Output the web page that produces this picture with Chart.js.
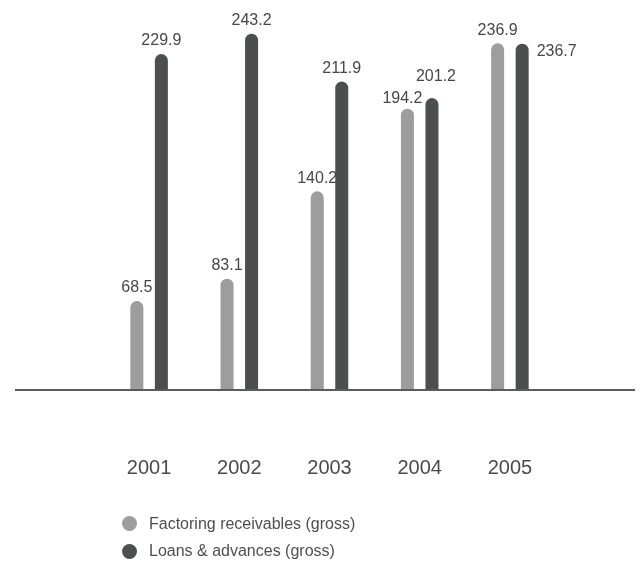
<!DOCTYPE html>
<html>
<head>
<meta charset="utf-8">
<script src="https://cdn.jsdelivr.net/npm/chart.js@4/dist/chart.umd.min.js"></script>
<style>
  html, body { margin: 0; padding: 0; background: #fff; }
  #wrap { position: relative; width: 641px; height: 564px; }
  #legend { position: absolute; left: 122px; top: 510px; font: 16px "Liberation Sans", Arial, sans-serif; color: #4f4f4f; }
  #legend div { display: flex; align-items: center; height: 27.5px; }
  #legend span.dot { width: 15px; height: 15px; border-radius: 50%; margin-right: 12px; }
</style>
</head>
<body>
<div id="wrap">
  <canvas id="chart" width="641" height="564"></canvas>
  <div id="legend"></div>
</div>
<script>
const years = ["2001", "2002", "2003", "2004", "2005"];
const factoring = [68.5, 83.1, 140.2, 194.2, 236.9];
const loans = [229.9, 243.2, 211.9, 201.2, 236.7];

const LIGHT = "#9c9d9c";
const DARK = "#4c4f4e";
const FONT = '"Liberation Sans", Arial, sans-serif';

// long rule under the bars, wider than the plot area
const baseline = {
  id: "baseline",
  beforeDatasetsDraw(chart) {
    const ctx = chart.ctx;
    const y = chart.chartArea.bottom + 1;
    ctx.save();
    ctx.strokeStyle = "#5b5b5b";
    ctx.lineWidth = 2;
    ctx.beginPath();
    ctx.moveTo(15, y);
    ctx.lineTo(635, y);
    ctx.stroke();
    ctx.restore();
  },
};

// value above each bar. When the pair of labels in a year would clash:
// nearly level -> second one goes beside its bar, otherwise spread them apart.
const valueLabels = {
  id: "valueLabels",
  afterDatasetsDraw(chart) {
    const ctx = chart.ctx;
    ctx.save();
    ctx.font = "16px " + FONT;
    ctx.fillStyle = "#474747";
    ctx.textBaseline = "middle";
    const m0 = chart.getDatasetMeta(0);
    const m1 = chart.getDatasetMeta(1);
    years.forEach((_, i) => {
      const a = m0.data[i];
      const b = m1.data[i];
      const ta = chart.data.datasets[0].data[i].toFixed(1);
      const tb = chart.data.datasets[1].data[i].toFixed(1);
      const la = { x: a.x, y: a.y - 13, w: ctx.measureText(ta).width, align: "center" };
      const lb = { x: b.x, y: b.y - 13, w: ctx.measureText(tb).width, align: "center" };
      const overlapX = Math.abs(la.x - lb.x) < (la.w + lb.w) / 2;
      const dy = Math.abs(la.y - lb.y);
      if (overlapX && dy < 4) {
        lb.align = "left";
        lb.x = b.x + b.width / 2 + 8;
        lb.y = b.y + 8;
      } else if (overlapX && dy < 16) {
        const low = la.y > lb.y ? la : lb;
        const high = low === la ? lb : la;
        low.y += 3;
        high.y = low.y - 22;
        la.x -= 5;
        lb.x += 4;
      }
      [[la, ta], [lb, tb]].forEach(([l, t]) => {
        ctx.textAlign = l.align;
        ctx.fillText(t, l.x, l.y);
      });
    });
    ctx.restore();
  },
};

const chart = new Chart(document.getElementById("chart"), {
  type: "bar",
  data: {
    labels: years,
    datasets: [
      {
        label: "Factoring receivables (gross)",
        data: factoring,
        backgroundColor: LIGHT,
      },
      {
        label: "Loans & advances (gross)",
        data: loans,
        backgroundColor: DARK,
      },
    ],
  },
  options: {
    responsive: false,
    animation: false,
    layout: { padding: { left: 104, right: 86, top: 8, bottom: 25 } },
    datasets: {
      bar: {
        categoryPercentage: 0.544,
        barPercentage: 0.53,
        borderRadius: 7,
        borderSkipped: false,
      },
    },
    scales: {
      x: {
        grid: { display: false },
        border: { display: false },
        ticks: { color: "#4a4a4a", font: { family: FONT, size: 20 }, padding: 59 },
      },
      y: {
        display: false,
        min: 11,
        max: 260,
      },
    },
    plugins: {
      legend: { display: false },
      tooltip: { enabled: false },
    },
  },
  plugins: [baseline, valueLabels],
});

// legend rows under the chart
const legend = document.getElementById("legend");
chart.data.datasets.forEach((ds) => {
  const row = document.createElement("div");
  const dot = document.createElement("span");
  dot.className = "dot";
  dot.style.background = ds.backgroundColor;
  row.appendChild(dot);
  row.appendChild(document.createTextNode(ds.label));
  legend.appendChild(row);
});
</script>
</body>
</html>
